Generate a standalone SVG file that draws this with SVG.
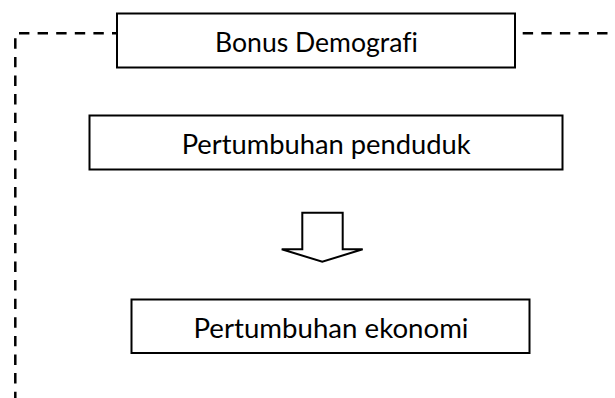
<svg xmlns="http://www.w3.org/2000/svg" width="615" height="398" viewBox="0 0 615 398">
  <style>
    .box { fill: #ffffff; stroke: #000000; stroke-width: 2; }
    .lbl { font-family: Lato, "Open Sans", "Liberation Sans", sans-serif; font-size: 26px; fill: #000000; font-variant-ligatures: none; font-feature-settings: "liga" 0, "clig" 0; }
    .dash { fill: none; stroke: #000000; stroke-width: 2.5; stroke-dasharray: 10.4 8.2; }
    .blockarrow { fill: #ffffff; stroke: #000000; stroke-width: 2; stroke-linejoin: miter; }
  </style>
  <rect width="615" height="398" fill="#ffffff"/>
  <g id="frame">
    <line class="dash" x1="19" y1="33.3" x2="117" y2="33.3"/>
    <line class="dash" x1="15.3" y1="38.3" x2="15.3" y2="398"/>
    <line class="dash" x1="522.7" y1="33.3" x2="615" y2="33.3"/>
  </g>
  <g id="connectors">
    <polygon class="blockarrow" points="302.3,212.7 342.7,212.7 342.7,249.3 362.7,249.3 322.3,261.7 281.7,249.3 302.3,249.3"/>
  </g>
  <g id="bonus-demografi">
    <rect class="box" x="117" y="13.5" width="398" height="54"/>
    <text class="lbl" x="215" y="51.7" textLength="203" lengthAdjust="spacingAndGlyphs">Bonus Demografi</text>
  </g>
  <g id="pertumbuhan-penduduk">
    <rect class="box" x="89.5" y="115.5" width="473" height="54"/>
    <text class="lbl" x="181.7" y="154.3" textLength="289" lengthAdjust="spacingAndGlyphs">Pertumbuhan penduduk</text>
  </g>
  <g id="pertumbuhan-ekonomi">
    <rect class="box" x="131.5" y="299.5" width="398" height="53.5"/>
    <text class="lbl" x="193.5" y="337.5" textLength="275" lengthAdjust="spacingAndGlyphs">Pertumbuhan ekonomi</text>
  </g>
</svg>
